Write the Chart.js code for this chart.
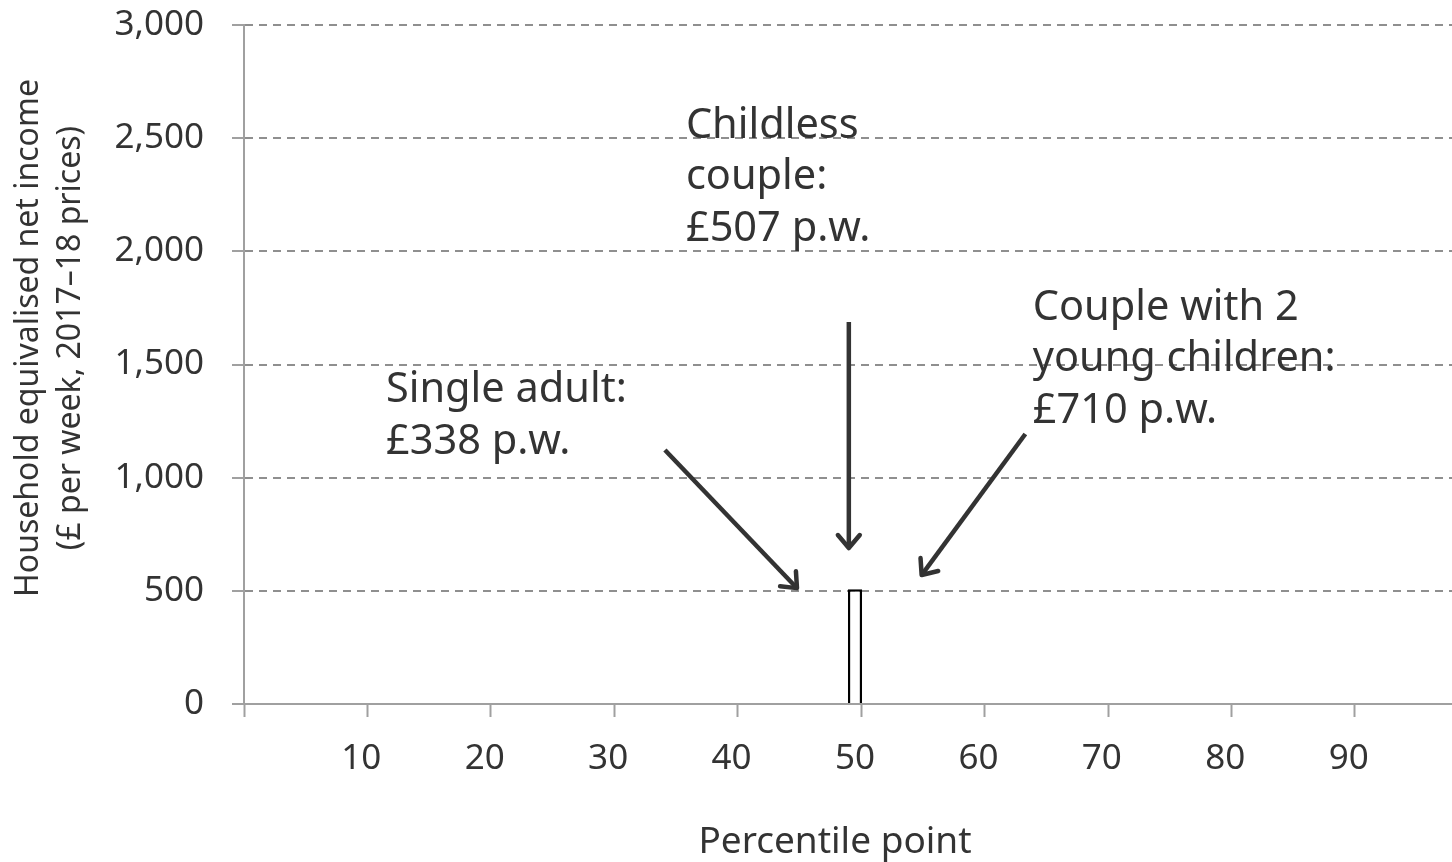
<!DOCTYPE html>
<html>
<head>
<meta charset="utf-8">
<script src="https://cdn.jsdelivr.net/npm/chart.js@4"></script>
<style>
  html, body { margin: 0; padding: 0; background: #fff; overflow: hidden; }
  #wrap { width: 1466px; height: 862px; }
</style>
</head>
<body>
<div id="wrap"><canvas id="chart" width="1466" height="862"></canvas></div>
<script>
// percentile points 1..99 on the category axis
const percentiles = Array.from({ length: 99 }, (_, i) => String(i + 1));
const xTickLabels = ['10', '20', '30', '40', '50', '60', '70', '80', '90'];
const yTicks = [0, 500, 1000, 1500, 2000, 2500, 3000];

// the only bar: median childless couple
const barPercentiles = ['50'];
const barValues = [507];

// callouts: text lines, text anchor (percentile, value), arrow from/to (percentile, value)
const calloutText = [
  ['Single adult:', '£338 p.w.'],
  ['Childless', 'couple:', '£507 p.w.'],
  ['Couple with 2', 'young children:', '£710 p.w.']
];
const calloutAnchor = [[11.5, 1386], [35.8, 2553], [63.9, 1749]];
const arrowFrom = [[34.1, 1122], [49, 1688], [63.3, 1193]];
const arrowTo = [[44.8, 512], [49, 689], [54.9, 570]];

const textColor = '#333333';
const axisColor = '#a0a0a0';
const fontFamily = '"Noto Sans", "Open Sans", sans-serif';

const barData = percentiles.map(p => {
  const k = barPercentiles.indexOf(p);
  return k >= 0 ? barValues[k] : null;
});

const ctx = document.getElementById('chart').getContext('2d');

// percentile p (boundary position) -> pixel
function xPos(scale, p) {
  return scale.getPixelForValue(p - 0.5);
}

function drawArrow(c, x1, y1, x2, y2) {
  const ang = Math.atan2(y2 - y1, x2 - x1);
  const head = 17;
  c.save();
  c.strokeStyle = textColor;
  c.lineWidth = 4.5;
  c.lineCap = 'butt';
  c.beginPath();
  c.moveTo(x1, y1);
  c.lineTo(x2 - Math.cos(ang) * 3, y2 - Math.sin(ang) * 3);
  c.stroke();
  c.lineJoin = 'round';
  c.lineCap = 'round';
  c.beginPath();
  c.moveTo(x2 - head * Math.cos(ang - 0.7), y2 - head * Math.sin(ang - 0.7));
  c.lineTo(x2, y2);
  c.lineTo(x2 - head * Math.cos(ang + 0.7), y2 - head * Math.sin(ang + 0.7));
  c.stroke();
  c.restore();
}

const calloutPlugin = {
  id: 'callouts',
  afterDraw(chart) {
    const c = chart.ctx;
    const xs = chart.scales.x, ys = chart.scales.y;
    c.save();
    c.fillStyle = textColor;
    c.font = '41.5px ' + fontFamily;
    c.textAlign = 'left';
    c.textBaseline = 'middle';
    calloutText.forEach((lines, i) => {
      const x = xPos(xs, calloutAnchor[i][0]);
      const y = ys.getPixelForValue(calloutAnchor[i][1]);
      lines.forEach((t, j) => c.fillText(t, x, y + j * 51.5));
    });
    arrowFrom.forEach((f, i) => {
      drawArrow(c,
        xPos(xs, f[0]), ys.getPixelForValue(f[1]),
        xPos(xs, arrowTo[i][0]), ys.getPixelForValue(arrowTo[i][1]));
    });

    // axis titles
    c.font = '37px ' + fontFamily;
    c.textAlign = 'center';
    c.fillText('Percentile point', 835, 842);
    c.font = '32px ' + fontFamily;
    c.translate(0, 338);
    c.rotate(-Math.PI / 2);
    c.fillText('Household equivalised net income', 0, 29);
    c.fillText('(£ per week, 2017–18 prices)', 0, 71);
    c.restore();
  }
};

new Chart(ctx, {
  type: 'bar',
  data: {
    labels: percentiles,
    datasets: [{
      data: barData,
      backgroundColor: '#ffffff',
      borderColor: '#000000',
      borderWidth: 2.5,
      barPercentage: 1.15,
      categoryPercentage: 1
    }]
  },
  options: {
    responsive: false,
    animation: false,
    devicePixelRatio: 1,
    layout: { padding: { top: 25, left: 0, right: 0, bottom: 0 } },
    plugins: {
      legend: { display: false },
      tooltip: { enabled: false }
    },
    scales: {
      x: {
        type: 'category',
        offset: true,
        afterFit(scale) {
          scale.height = 158;
          scale.paddingLeft = 0;
          scale.paddingRight = 0;
        },
        grid: {
          offset: true,
          drawOnChartArea: false,
          drawTicks: true,
          tickLength: 13,
          tickWidth: 2,
          tickColor: c => (c.index % 10 === 0 ? axisColor : 'rgba(0,0,0,0)')
        },
        border: { display: true, color: axisColor, width: 2 },
        ticks: {
          autoSkip: false,
          maxRotation: 0,
          minRotation: 0,
          padding: 21,
          color: textColor,
          font: { family: fontFamily, size: 35 },
          callback: function (val, i) {
            const lab = percentiles[i];
            return xTickLabels.includes(lab) ? lab : '';
          }
        }
      },
      y: {
        min: yTicks[0],
        max: yTicks[yTicks.length - 1],
        afterFit(scale) {
          scale.width = 244;
          scale.paddingTop = 0;
          scale.paddingBottom = 0;
        },
        afterBuildTicks(scale) { scale.ticks = yTicks.map(v => ({ value: v })); },
        grid: {
          color: c => (c.tick && c.tick.value === 0 ? 'rgba(0,0,0,0)' : '#8f8f8f'),
          lineWidth: 2,
          tickLength: 12,
          tickWidth: 2,
          tickColor: axisColor,
          tickBorderDash: []
        },
        border: { display: true, color: axisColor, width: 2, dash: [8, 6] },
        ticks: {
          padding: 28,
          color: textColor,
          font: { family: fontFamily, size: 35 },
          callback: v => v.toLocaleString('en-GB')
        }
      }
    }
  },
  plugins: [calloutPlugin]
});
</script>
</body>
</html>
